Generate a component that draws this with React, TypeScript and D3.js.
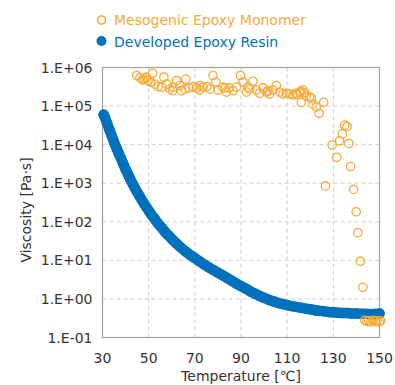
import * as d3 from "d3";

// Developed Epoxy Resin (filled blue), temperature [°C] / viscosity [Pa·s]
const resinTemp = [
  30.5, 31, 32, 33, 34, 35, 36, 37, 38, 39, 40, 41, 42, 43, 44, 45, 46, 47, 48, 49,
  50, 51, 52, 53, 54, 55, 56, 57, 58, 59, 60, 62, 64, 66, 68, 70, 72, 74, 76, 78,
  80, 82, 84, 86, 88, 90, 92, 94, 96, 98, 100, 102, 104, 106, 108, 110, 112, 114, 116, 118,
  120, 122, 124, 126, 128, 130, 132, 134, 136, 138, 140, 142, 144, 146, 148, 150,
];
const resinVisc = [
  6.0e4, 5.13e4, 3.55e4, 2.45e4, 1.7e4, 1.17e4, 8.3e3, 6.0e3, 4.4e3, 3.2e3, 2.3e3, 1.74e3, 1.29e3, 980, 760, 590, 470, 370, 295, 240,
  195, 158, 132, 110, 91, 78, 66, 56, 48, 42, 36, 27.5, 21.4, 17.0, 13.8, 11.5, 9.5, 7.9, 6.6, 5.6,
  4.8, 4.1, 3.5, 2.95, 2.5, 2.15, 1.86, 1.58, 1.38, 1.2, 1.07, 0.95, 0.87, 0.79, 0.74, 0.69, 0.65, 0.62, 0.59, 0.56,
  0.54, 0.51, 0.49, 0.48, 0.46, 0.45, 0.44, 0.43, 0.43, 0.42, 0.42, 0.41, 0.41, 0.40, 0.41, 0.42,
];

// Mesogenic Epoxy Monomer (open orange)
const monomerTemp = [
  44.8, 46.2, 47.4, 48.4, 49.1, 49.8, 50.8, 51.7, 52.7, 54.1, 55.6, 56.6, 57.8, 59.2, 60.4, 60.6, 62.1, 63.5, 64.2, 65.7,
  66.1, 67.5, 69.3, 70.7, 72.2, 72.2, 73.6, 75.3, 76.5, 77.9, 79.1, 80.1, 82.0, 83.0, 83.7, 84.8, 86.6, 88.0, 89.8, 90.9,
  92.4, 93.0, 93.8, 95.2, 96.7, 98.1, 99.5, 101.0, 101.7, 102.4, 103.9, 105.3, 106.8, 108.2, 109.7, 111.1, 112.5, 113.8, 114.0, 115.5,
  115.7, 116.1, 116.8, 117.6, 118.3, 119.7, 120.5, 121.2, 122.6, 123.8, 125.8, 126.6, 129.5, 131.5, 132.7, 133.9, 134.9, 135.9, 136.7, 137.5,
  138.8, 139.9, 140.6, 141.7, 142.8, 143.6, 144.5, 145.4, 146.3, 147.2, 148.1, 149.0, 149.9, 150.5,
];
const monomerVisc = [
  6.2e5, 5.4e5, 4.8e5, 5.0e5, 5.6e5, 4.6e5, 4.2e5, 7.1e5, 3.7e5, 3.2e5, 3.1e5, 5.6e5, 3.7e5, 2.75e5, 2.5e5, 3.1e5, 4.6e5, 3.4e5, 2.5e5, 2.75e5,
  5.0e5, 2.95e5, 3.2e5, 2.95e5, 3.4e5, 2.6e5, 3.1e5, 3.2e5, 2.75e5, 6.2e5, 4.2e5, 2.6e5, 3.1e5, 2.95e5, 2.3e5, 2.95e5, 2.5e5, 3.1e5, 6.2e5, 4.2e5,
  2.3e5, 3.1e5, 2.75e5, 4.4e5, 2.6e5, 2.15e5, 2.95e5, 2.3e5, 2.5e5, 2.05e5, 2.6e5, 3.4e5, 2.3e5, 2.05e5, 2.15e5, 2.05e5, 1.95e5, 2.15e5, 1.95e5, 2.2e5,
  2.4e5, 1.23e5, 2.6e5, 2.2e5, 1.85e5, 1.7e5, 1.6e5, 1.12e5, 9.5e4, 6.5e4, 1.25e5, 850, 9.8e3, 4.7e3, 1.26e4, 1.9e4, 3.2e4, 2.95e4, 1.07e4, 2.7e3,
  690, 182, 52, 9.5, 2.0, 0.28, 0.26, 0.27, 0.25, 0.28, 0.26, 0.27, 0.25, 0.27,
];

const xTicks = [30, 50, 70, 90, 110, 130, 150];
const yTicks = [1e-1, 1e0, 1e1, 1e2, 1e3, 1e4, 1e5, 1e6];
const yTickLabels = ["1.E-01", "1.E+00", "1.E+01", "1.E+02", "1.E+03", "1.E+04", "1.E+05", "1.E+06"];

const BLUE = "#0071bc";
const ORANGE = "#f7a936";
const FONT = "'DejaVu Sans', sans-serif";

export default function App() {
  const width = 395;
  const height = 385;
  const margin = { top: 67.5, right: 15.5, bottom: 47.5, left: 102.5 };
  const innerW = width - margin.left - margin.right;
  const innerH = height - margin.top - margin.bottom;

  const x = d3.scaleLinear().domain([30, 150]).range([0, innerW]);
  const y = d3.scaleLog().domain([0.1, 1e6]).range([innerH, 0]);

  const resin = resinTemp.map((t, i) => ({ t, v: resinVisc[i] }));
  const monomer = monomerTemp.map((t, i) => ({ t, v: monomerVisc[i] }));

  const line = d3.line<{ t: number; v: number }>()
    .x(d => x(d.t))
    .y(d => y(d.v))
    .curve(d3.curveMonotoneX);

  return (
    <svg width={width} height={height} style={{ position: "absolute", left: 0, top: 0, background: "#fff" }}
      fontFamily={FONT}>
      {/* legend */}
      <circle cx={101.5} cy={20} r={4} fill="none" stroke={ORANGE} strokeWidth={1.6} />
      <text x={114} y={25} fontSize={14} fill={ORANGE}>Mesogenic Epoxy Monomer</text>
      <circle cx={101.5} cy={41} r={5} fill={BLUE} />
      <text x={114} y={46.5} fontSize={14} fill={BLUE}>Developed Epoxy Resin</text>

      <g transform={`translate(${margin.left},${margin.top})`}>
        {/* grid */}
        {xTicks.slice(1, -1).map(t => (
          <line key={"gx" + t} x1={x(t)} x2={x(t)} y1={0} y2={innerH}
            stroke="#cfcfcf" strokeWidth={1} strokeDasharray="4,3" />
        ))}
        {yTicks.slice(1, -1).map(t => (
          <line key={"gy" + t} x1={0} x2={innerW} y1={y(t)} y2={y(t)}
            stroke="#cfcfcf" strokeWidth={1} strokeDasharray="4,3" />
        ))}
        <rect x={0} y={0} width={innerW} height={innerH} fill="none" stroke="#a0a0a0" strokeWidth={1.2} />

        {/* resin */}
        <path d={line(resin) ?? ""} fill="none" stroke={BLUE} strokeWidth={10.5}
          strokeLinecap="round" strokeLinejoin="round" />
        {resin.map((d, i) => (
          <circle key={"r" + i} cx={x(d.t)} cy={y(d.v)} r={5.2} fill={BLUE} />
        ))}

        {/* monomer */}
        {monomer.map((d, i) => (
          <circle key={"m" + i} cx={x(d.t)} cy={y(d.v)} r={4.2} fill="none" stroke={ORANGE} strokeWidth={1.3} />
        ))}

        {/* axes labels */}
        {yTicks.map((t, i) => (
          <text key={"yl" + t} x={-10} y={y(t)} dy="0.36em" textAnchor="end" fontSize={14} fill="#333">
            {yTickLabels[i]}
          </text>
        ))}
        {xTicks.map(t => (
          <text key={"xl" + t} x={x(t)} y={innerH + 25} textAnchor="middle" fontSize={14} fill="#333">
            {t}
          </text>
        ))}
        <text x={innerW / 2} y={innerH + 43.5} textAnchor="middle" fontSize={14} fill="#333">
          Temperature [℃]
        </text>
        <text transform={`translate(${-77},${(210 - margin.top)}) rotate(-90)`} dy="0.36em"
          textAnchor="middle" fontSize={14} fill="#333">
          Viscosity [Pa·s]
        </text>
      </g>
    </svg>
  );
}
